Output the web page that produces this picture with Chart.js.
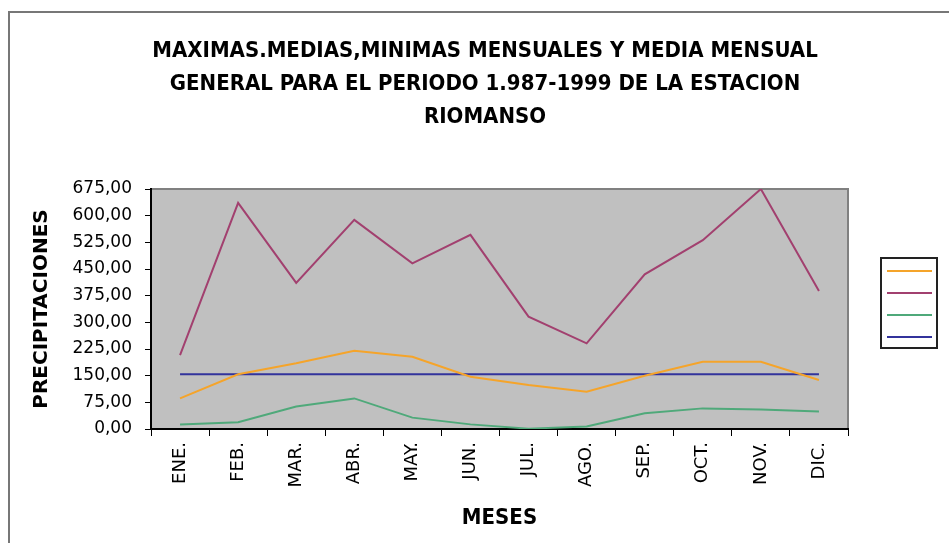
<!DOCTYPE html>
<html>
<head>
<meta charset="utf-8">
<title>Riomanso</title>
<script src="https://cdn.jsdelivr.net/npm/chart.js@4.4.1/dist/chart.umd.min.js"></script>
<style>
  html, body { margin: 0; padding: 0; background: #fff; overflow: hidden; }
  #frame {
    position: absolute; left: 8px; top: 11px; width: 1000px; height: 600px;
    border-left: 2px solid #777; border-top: 2px solid #777;
  }
  #wrap { position: absolute; left: 0; top: 0; width: 949px; height: 543px; }
</style>
</head>
<body>
<div id="frame"></div>
<div id="wrap"><canvas id="chart" width="949" height="543"></canvas></div>
<script>
  // Data
  const months = ['ENE.', 'FEB.', 'MAR.', 'ABR.', 'MAY.', 'JUN.', 'JUL.', 'AGO.', 'SEP.', 'OCT.', 'NOV.', 'DIC.'];
  const media = [86, 154, 185, 220, 203, 147, 124, 105, 150, 189, 189, 138];
  const maximas = [208, 636, 411, 588, 466, 546, 316, 241, 435, 531, 675, 388];
  const minimas = [13, 19, 63, 86, 32, 13, 1, 7, 44, 58, 55, 49];
  const mediaGeneral = [154, 154, 154, 154, 154, 154, 154, 154, 154, 154, 154, 154];
  const yTicks = [0, 75, 150, 225, 300, 375, 450, 525, 600, 675];

  const titleLines = [
    'MAXIMAS.MEDIAS,MINIMAS MENSUALES Y MEDIA MENSUAL',
    'GENERAL PARA EL PERIODO 1.987-1999 DE LA ESTACION',
    'RIOMANSO'
  ];

  const narrow = '"Liberation Sans Narrow", "DejaVu Sans Condensed", "Liberation Sans", sans-serif';
  const plain = '"DejaVu Sans", "Liberation Sans", sans-serif';

  // grey plot background + grey top/right frame
  const plotBg = {
    id: 'plotBg',
    afterLayout(chart) {
      // title is centred on the whole frame, not on the plot box
      chart.titleBlock.left = 0;
      chart.titleBlock.right = 970;
    },
    beforeDraw(chart) {
      const { ctx, chartArea: a } = chart;
      ctx.save();
      ctx.fillStyle = '#c0c0c0';
      ctx.fillRect(a.left, a.top, a.right - a.left, a.bottom - a.top);
      ctx.strokeStyle = '#808080';
      ctx.lineWidth = 2;
      ctx.beginPath();
      ctx.moveTo(a.left, a.top);
      ctx.lineTo(a.right, a.top);
      ctx.lineTo(a.right, a.bottom);
      ctx.stroke();
      ctx.restore();
    }
  };

  // boxed legend with line samples only (no text in the original)
  const boxLegend = {
    id: 'boxLegend',
    afterDraw(chart) {
      const { ctx } = chart;
      const x = 881, y = 258, w = 56, h = 90;
      ctx.save();
      ctx.fillStyle = '#fff';
      ctx.fillRect(x, y, w, h);
      ctx.strokeStyle = '#222';
      ctx.lineWidth = 2;
      ctx.strokeRect(x, y, w, h);
      chart.data.datasets.forEach((ds, i) => {
        const ly = y + 13 + i * 22;
        ctx.strokeStyle = ds.borderColor;
        ctx.lineWidth = ds.borderWidth;
        ctx.beginPath();
        ctx.moveTo(x + 6, ly);
        ctx.lineTo(x + w - 5, ly);
        ctx.stroke();
      });
      ctx.restore();
    }
  };

  const ctx = document.getElementById('chart').getContext('2d');
  new Chart(ctx, {
    type: 'line',
    data: {
      labels: months,
      datasets: [
        { label: 'Media', data: media, borderColor: '#f5a42a', borderWidth: 2 },
        { label: 'Maximas', data: maximas, borderColor: '#a2406f', borderWidth: 2 },
        { label: 'Minimas', data: minimas, borderColor: '#4fa97a', borderWidth: 2 },
        { label: 'Media general', data: mediaGeneral, borderColor: '#32339c', borderWidth: 2 }
      ]
    },
    options: {
      responsive: false,
      animation: false,
      devicePixelRatio: 1,
      elements: { point: { radius: 0 }, line: { tension: 0 } },
      layout: { padding: { left: 30, right: 101, top: 0, bottom: 0 } },
      plugins: {
        legend: { display: false },
        tooltip: { enabled: false },
        title: {
          display: true,
          text: titleLines,
          color: '#000',
          font: { family: narrow, size: 22, weight: 'bold', lineHeight: 1.5 },
          padding: { top: 35, bottom: 55 }
        }
      },
      scales: {
        x: {
          offset: true,
          grid: { offset: true, drawOnChartArea: false, color: '#000', tickLength: 7, tickWidth: 1 },
          border: { color: '#000', width: 2 },
          ticks: {
            color: '#000', minRotation: 90, maxRotation: 90, padding: 6,
            font: { family: plain, size: 18 }
          },
          title: {
            display: true, text: 'MESES', color: '#000',
            font: { family: narrow, size: 22, weight: 'bold' },
            padding: { top: 0, bottom: 12 }
          },
          afterFit(scale) { scale.height = 114; }
        },
        y: {
          min: 0, max: 675,
          afterBuildTicks(scale) { scale.ticks = yTicks.map(v => ({ value: v })); },
          grid: { drawOnChartArea: false, color: '#000', tickLength: 6, tickWidth: 1 },
          border: { color: '#000', width: 2 },
          ticks: {
            color: '#000', padding: 13,
            font: { family: plain, size: 17 },
            callback: v => v.toFixed(2).replace('.', ',')
          },
          title: {
            display: true, text: 'PRECIPITACIONES', color: '#000',
            font: { family: plain, size: 20, weight: 'bold' },
            padding: 0
          },
          afterFit(scale) { scale.width = 121; }
        }
      }
    },
    plugins: [plotBg, boxLegend]
  });
</script>
</body>
</html>
